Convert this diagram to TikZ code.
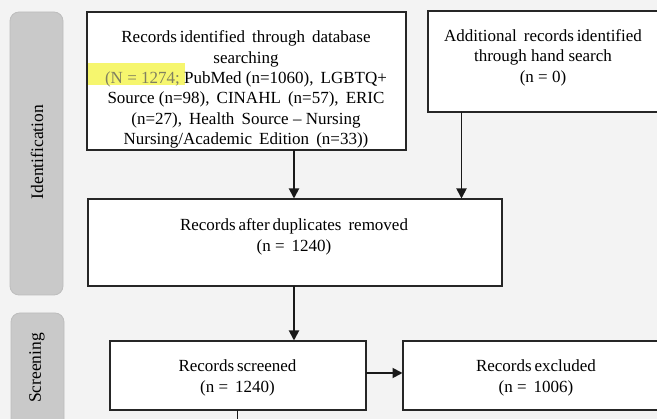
\documentclass[tikz,border=0pt]{standalone}
\usepackage{fontspec}
\setmainfont{Liberation Serif}
\usetikzlibrary{arrows.meta}
\definecolor{bg}{HTML}{F3F3F3}
\definecolor{barfill}{HTML}{C9C9C9}
\definecolor{barline}{HTML}{BDBDBD}
\definecolor{hilite}{HTML}{F6F66E}
\definecolor{dimtext}{HTML}{808060}
\begin{document}
\begin{tikzpicture}[x=1pt,y=-1pt,
  box/.style={draw=black!85,line width=2pt,fill=white},
  bar/.style={draw=barline,fill=barfill,rounded corners=9pt,line width=0.8pt},
  txt/.style={align=center,font=\fontsize{17}{20.4}\selectfont,inner sep=0pt},
  lbl/.style={rotate=90,font=\fontsize{17.5}{19}\selectfont,inner sep=0pt},
  arr/.style={-{Triangle[length=10pt,width=10pt]},line width=1.8pt,black!90}]
\useasboundingbox (0,0) rectangle (657,419);
\clip (0,0) rectangle (657,419);
\fill[bg] (0,0) rectangle (657,419);
% side bars
\path[bar] (10,12) rectangle (63,295);
\path[bar] (11,313) rectangle (64,440);
\node[lbl] (lid) at (37,152) {Identification};
\node[lbl] (lsc) at (37,368) {Screening};
% boxes
\path[box] (87,12) rectangle (405.5,150.5);
\fill[hilite] (88,63) rectangle (185,85);
\node[txt] (t1) at (246,89.5) {Records\,identified\, through\, database\\searching\\{\color{dimtext}(N = 1274;} PubMed (n=1060),\, LGBTQ+\\Source (n=98),\, CINAHL\, (n=57),\, ERIC\\(n=27),\, Health\, Source -- Nursing\\Nursing/Academic\, Edition\, (n=33))};
\path[box] (428,11) rectangle (670,112);
\node[txt] (t2) at (543,57.5) {Additional\, records\,identified\\through hand search\\(n = 0)};
\path[box] (88,199) rectangle (501.5,286);
\node[txt] (t3) at (294,237) {Records\,after\,duplicates\, removed\\(n = \,1240)};
\path[box] (110,341) rectangle (365.5,410);
\node[txt] (t4) at (237.5,378) {Records\,screened\\(n = \,1240)};
\path[box] (403,341) rectangle (670,410);
\node[txt] (t5) at (536,378) {Records\,excluded\\(n = \,1006)};
% named anchors for connectors
\coordinate (b1s) at (294,150.5);
\coordinate (b2s) at (461.5,112);
\coordinate (b3n1) at (294,198.5);
\coordinate (b3n2) at (461.5,198.5);
\coordinate (b3s) at (294,286);
\coordinate (b4n) at (294,340.5);
\coordinate (b4e) at (365.5,373);
\coordinate (b5w) at (402.5,373);
\coordinate (b4s) at (237.5,410);
\coordinate (end) at (237.5,425);
\draw[arr] (b1s) -- (b3n1);
\draw[arr] (b2s) -- (b3n2);
\draw[arr] (b3s) -- (b4n);
\draw[arr] (b4e) -- (b5w);
\draw[line width=1.8pt,black!90] (b4s) -- (end);
\end{tikzpicture}
\end{document}
